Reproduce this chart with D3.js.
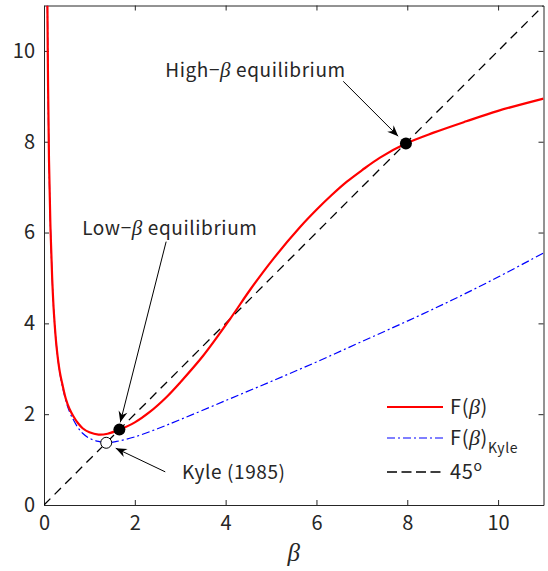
<!DOCTYPE html>
<html>
<head>
<meta charset="utf-8">
<script src="https://cdn.jsdelivr.net/npm/d3@7"></script>
<style>
  body { margin: 0; background: #fff; }
  text { font-family: "Noto Sans CJK JP", "Noto Sans", sans-serif; fill: #262626; }
  .beta { font-family: "Liberation Serif", serif; font-style: italic; }
  .note { letter-spacing: 0.6px; }
</style>
</head>
<body>
<script>
// ! Data
const xTicks = [0, 2, 4, 6, 8, 10];
const yTicks = [0, 2, 4, 6, 8, 10];

// F(beta) : [beta, value]
const fBeta = [
  [0.075, 11.0], [0.09, 9.2], [0.11, 7.6], [0.14, 6.2], [0.18, 5.0], [0.22, 4.2],
  [0.28, 3.45], [0.35, 2.92], [0.4, 2.68], [0.48, 2.34], [0.56, 2.12], [0.65, 1.95],
  [0.75, 1.8], [0.85, 1.69], [1.0, 1.6], [1.2, 1.55], [1.4, 1.57], [1.66, 1.66],
  [2.0, 1.82], [2.33, 2.05], [2.7, 2.38], [3.0, 2.7], [3.5, 3.28], [4.1, 4.1],
  [4.54, 4.74], [5.05, 5.42], [5.64, 6.12], [6.0, 6.5], [6.33, 6.82], [6.67, 7.12],
  [7.0, 7.37], [7.4, 7.65], [7.97, 7.96], [8.58, 8.2], [9.3, 8.45], [10.0, 8.68],
  [11.0, 8.95],
];

// F(beta)_Kyle : [beta, value]
const fKyle = [
  [0.075, 11.0], [0.09, 9.2], [0.11, 7.6], [0.14, 6.2], [0.18, 5.0], [0.22, 4.2],
  [0.28, 3.45], [0.35, 2.9], [0.4, 2.64], [0.48, 2.3], [0.56, 2.06], [0.65, 1.87],
  [0.75, 1.7], [0.85, 1.58], [1.0, 1.47], [1.2, 1.4], [1.37, 1.37], [1.6, 1.4],
  [2.0, 1.5], [2.5, 1.68], [3.0, 1.88], [4.0, 2.3], [5.0, 2.72], [6.0, 3.15],
  [7.0, 3.6], [8.0, 4.05], [9.0, 4.52], [10.0, 5.02], [11.0, 5.55],
];

const diagonal = [[0, 0], [11, 11]];

// equilibria
const highEq = [7.97, 7.96];
const lowEq = [1.66, 1.66];
const kyleEq = [1.37, 1.37];

// annotations: text anchor and arrow [from, to] in data units
const notes = [
  { pre: 'High−', post: ' equilibrium', at: [2.67, 9.42], from: [6.59, 9.33], to: [7.8, 8.12] },
  { pre: 'Low−', post: ' equilibrium', at: [0.84, 5.95], from: [2.69, 5.8], to: [1.68, 1.82] },
  { pre: 'Kyle (1985)', post: null, at: [3.04, 0.57], from: [2.67, 0.73], to: [1.58, 1.25] },
];

// ! Drawing
const width = 548;
const height = 571;
const margin = { top: 5.5, right: 4.5, bottom: 66, left: 44 };

const svg = d3.select('body').append('svg')
  .attr('width', width)
  .attr('height', height);

const x = d3.scaleLinear().domain([0, 11]).range([margin.left, width - margin.right]);
const y = d3.scaleLinear().domain([0, 11]).range([height - margin.bottom, margin.top]);

const defs = svg.append('defs');
defs.append('clipPath')
  .attr('id', 'plotClip')
  .append('rect')
  .attr('x', x(0))
  .attr('y', y(11))
  .attr('width', x(11) - x(0))
  .attr('height', y(0) - y(11));

defs.append('marker')
  .attr('id', 'arrowHead')
  .attr('viewBox', '-12 -6 14 12')
  .attr('refX', 0)
  .attr('refY', 0)
  .attr('markerWidth', 14)
  .attr('markerHeight', 12)
  .attr('markerUnits', 'userSpaceOnUse')
  .attr('orient', 'auto')
  .append('path')
  .attr('d', 'M0,0 L-11,-4.5 L-7.5,0 L-11,4.5 Z')
  .attr('fill', '#000');

// * Axes, ticks inward on all four sides
function styleAxis(g) {
  g.selectAll('.domain').attr('stroke', '#262626');
  g.selectAll('.tick line').attr('stroke', '#262626');
  g.selectAll('.tick text').attr('fill', '#262626')
    .style('font-family', '"Noto Sans CJK JP", sans-serif')
    .style('font-size', '20px');
}

svg.append('g')
  .attr('transform', `translate(0,${y(0)})`)
  .call(d3.axisBottom(x).tickValues(xTicks).tickSize(-5).tickSizeOuter(0).tickPadding(11))
  .call(styleAxis);
svg.append('g')
  .attr('transform', `translate(0,${y(11)})`)
  .call(d3.axisTop(x).tickValues(xTicks).tickSize(-5).tickSizeOuter(0).tickFormat(''))
  .call(styleAxis);
svg.append('g')
  .attr('transform', `translate(${x(0)},0)`)
  .call(d3.axisLeft(y).tickValues(yTicks).tickSize(-5).tickSizeOuter(0).tickPadding(9))
  .call(styleAxis);
svg.append('g')
  .attr('transform', `translate(${x(11)},0)`)
  .call(d3.axisRight(y).tickValues(yTicks).tickSize(-5).tickSizeOuter(0).tickFormat(''))
  .call(styleAxis);

// x label
svg.append('text')
  .attr('class', 'beta')
  .attr('x', (x(0) + x(11)) / 2)
  .attr('y', 561)
  .attr('text-anchor', 'middle')
  .style('font-size', '25px')
  .attr('fill', '#555')
  .text('β');

// * Curves
const line = d3.line()
  .x((d) => x(d[0]))
  .y((d) => y(d[1]))
  .curve(d3.curveCatmullRom.alpha(0.5));

const plot = svg.append('g').attr('clip-path', 'url(#plotClip)');

plot.append('path')
  .datum(diagonal)
  .attr('d', line)
  .attr('fill', 'none')
  .attr('stroke', '#000')
  .attr('stroke-width', 1.3)
  .attr('stroke-dasharray', '9,6');

plot.append('path')
  .datum(fKyle)
  .attr('d', line)
  .attr('fill', 'none')
  .attr('stroke', '#0000ff')
  .attr('stroke-width', 1.2)
  .attr('stroke-dasharray', '8,3,2,3');

plot.append('path')
  .datum(fBeta)
  .attr('d', line)
  .attr('fill', 'none')
  .attr('stroke', '#ff0000')
  .attr('stroke-width', 2.2);

// * Equilibrium markers
svg.append('circle')
  .attr('cx', x(kyleEq[0])).attr('cy', y(kyleEq[1])).attr('r', 5.5)
  .attr('fill', '#fff').attr('stroke', '#000').attr('stroke-width', 1);
[highEq, lowEq].forEach((p) => {
  svg.append('circle')
    .attr('cx', x(p[0])).attr('cy', y(p[1])).attr('r', 6)
    .attr('fill', '#000');
});

// * Annotations
notes.forEach((n) => {
  svg.append('line')
    .attr('x1', x(n.from[0])).attr('y1', y(n.from[1]))
    .attr('x2', x(n.to[0])).attr('y2', y(n.to[1]))
    .attr('stroke', '#000')
    .attr('stroke-width', 1)
    .attr('marker-end', 'url(#arrowHead)');
  const t = svg.append('text')
    .attr('class', 'note')
    .attr('x', x(n.at[0]))
    .attr('y', y(n.at[1]))
    .style('font-size', '19px')
    .attr('fill', '#000');
  t.append('tspan').text(n.pre);
  if (n.post !== null) {
    t.append('tspan').attr('class', 'beta').style('font-size', '21px').text('β');
    t.append('tspan').text(n.post);
  }
});

// * Legend
const legendX = 387;
const legendItems = [
  { y: 407, stroke: '#ff0000', width: 2.2, dash: null },
  { y: 438, stroke: '#0000ff', width: 1.2, dash: '8,3,2,3' },
  { y: 472, stroke: '#000', width: 1.3, dash: '10,4.5' },
];
const legend = svg.append('g').attr('class', 'legend');
legendItems.forEach((d) => {
  legend.append('line')
    .attr('x1', legendX).attr('x2', legendX + 56)
    .attr('y1', d.y).attr('y2', d.y)
    .attr('stroke', d.stroke)
    .attr('stroke-width', d.width)
    .attr('stroke-dasharray', d.dash);
});
const l1 = legend.append('text').attr('class', 'note').attr('x', 450).attr('y', 414)
  .style('font-size', '20px').attr('fill', '#000');
l1.append('tspan').text('F(');
l1.append('tspan').attr('class', 'beta').style('font-size', '22px').text('β');
l1.append('tspan').text(')');
const l2 = legend.append('text').attr('class', 'note').attr('x', 450).attr('y', 445)
  .style('font-size', '20px').attr('fill', '#000');
l2.append('tspan').text('F(');
l2.append('tspan').attr('class', 'beta').style('font-size', '22px').text('β');
l2.append('tspan').text(')');
l2.append('tspan').attr('dy', 8).style('font-size', '14px').text('Kyle');
const l3 = legend.append('text').attr('class', 'note').attr('x', 450).attr('y', 479)
  .style('font-size', '20px').attr('fill', '#000');
l3.append('tspan').text('45');
l3.append('tspan').attr('dy', -8).style('font-size', '14px').text('o');
</script>
</body>
</html>
